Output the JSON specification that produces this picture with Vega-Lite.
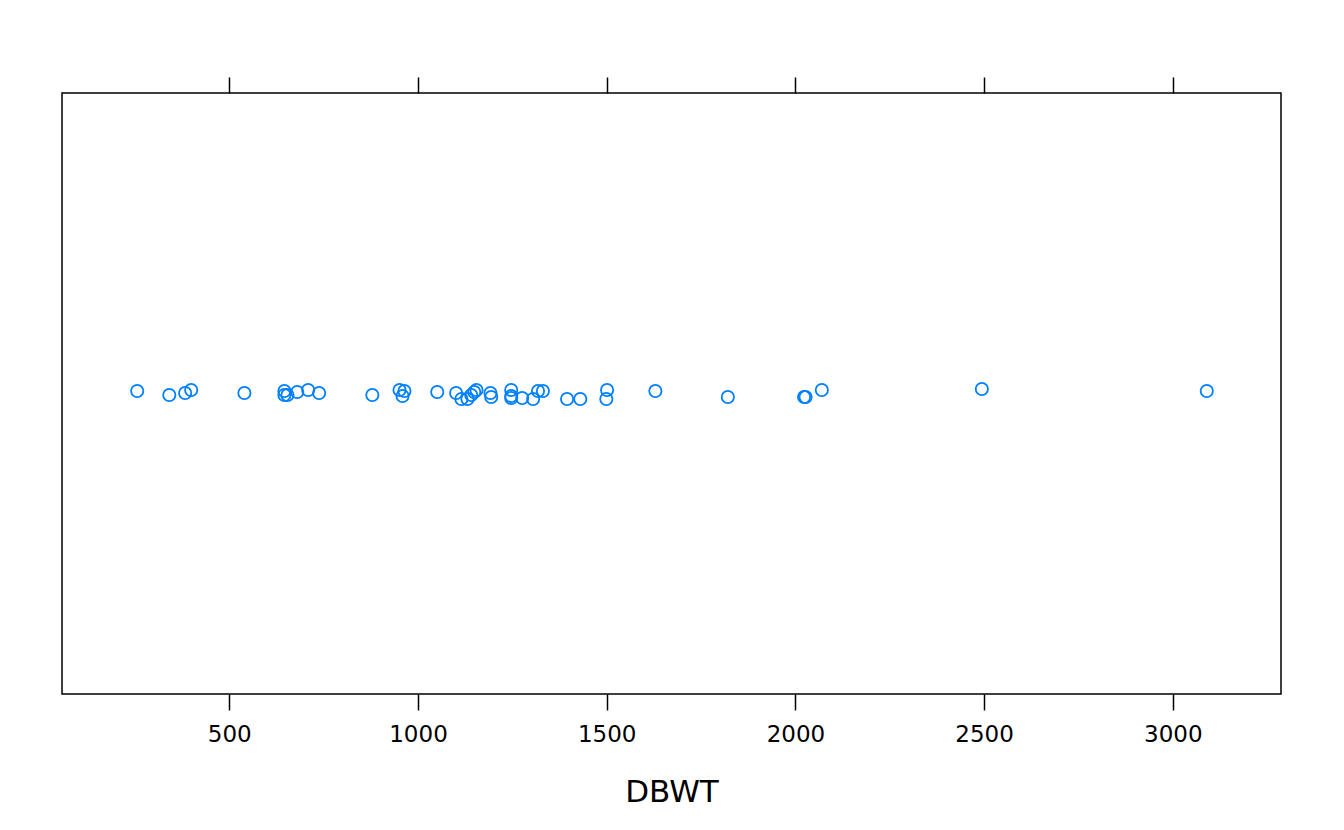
{
  "$schema": "https://vega.github.io/schema/vega-lite/v6.json",
  "autosize": "none",
  "width": 1219,
  "height": 601,
  "padding": {"left": 62, "top": 93, "right": 63, "bottom": 136},
  "background": "white",
  "config": {
    "view": {"stroke": "black", "strokeWidth": 1.5},
    "font": "DejaVu Sans"
  },
  "data": {
    "values": [
      {"DBWT": 256, "jit": 2.5},
      {"DBWT": 341, "jit": -1.5},
      {"DBWT": 383, "jit": 0.5},
      {"DBWT": 399, "jit": 3.5},
      {"DBWT": 540, "jit": 0.5},
      {"DBWT": 646, "jit": 2.5},
      {"DBWT": 646, "jit": -1.5},
      {"DBWT": 654, "jit": -1.5},
      {"DBWT": 680, "jit": 1.5},
      {"DBWT": 709, "jit": 3.5},
      {"DBWT": 738, "jit": 0.5},
      {"DBWT": 879, "jit": -1.5},
      {"DBWT": 951, "jit": 3.5},
      {"DBWT": 964, "jit": 2.5},
      {"DBWT": 959, "jit": -2.5},
      {"DBWT": 1051, "jit": 1.5},
      {"DBWT": 1101, "jit": 0.5},
      {"DBWT": 1115, "jit": -5.5},
      {"DBWT": 1131, "jit": -5.5},
      {"DBWT": 1141, "jit": -1.5},
      {"DBWT": 1149, "jit": 1.5},
      {"DBWT": 1155, "jit": 3.5},
      {"DBWT": 1192, "jit": 0.5},
      {"DBWT": 1194, "jit": -3.5},
      {"DBWT": 1247, "jit": 3.5},
      {"DBWT": 1247, "jit": -2.5},
      {"DBWT": 1247, "jit": -4.5},
      {"DBWT": 1276, "jit": -4.5},
      {"DBWT": 1305, "jit": -5.5},
      {"DBWT": 1318, "jit": 2.5},
      {"DBWT": 1331, "jit": 2.5},
      {"DBWT": 1395, "jit": -5.5},
      {"DBWT": 1430, "jit": -5.5},
      {"DBWT": 1501, "jit": 3.5},
      {"DBWT": 1499, "jit": -5.5},
      {"DBWT": 1629, "jit": 2.5},
      {"DBWT": 1821, "jit": -3.5},
      {"DBWT": 2023, "jit": -3.5},
      {"DBWT": 2027, "jit": -3.5},
      {"DBWT": 2070, "jit": 3.5},
      {"DBWT": 2494, "jit": 4.5},
      {"DBWT": 3090, "jit": 2.5}
    ]
  },
  "encoding": {
    "y": {
      "field": "jit",
      "type": "quantitative",
      "scale": {"domain": [-300.5, 300.5], "nice": false, "zero": false},
      "axis": null
    }
  },
  "layer": [
    {
      "mark": {"type": "point", "shape": "circle", "filled": false, "color": "#0080ff", "size": 150, "strokeWidth": 1.8, "opacity": 1},
      "encoding": {
        "x": {
          "field": "DBWT",
          "type": "quantitative",
          "scale": {"domain": [56.7, 3286.7], "nice": false, "zero": false},
          "axis": {
            "orient": "bottom",
            "values": [500, 1000, 1500, 2000, 2500, 3000],
            "format": "d",
            "grid": false,
            "domain": false,
            "tickColor": "black",
            "tickSize": 16,
            "tickWidth": 1.5,
            "labelFont": "DejaVu Sans",
            "labelFontSize": 23,
            "labelColor": "black",
            "labelPadding": 13,
            "title": "DBWT",
            "titleFont": "DejaVu Sans",
            "titleFontSize": 31,
            "titleFontWeight": "normal",
            "titleColor": "black",
            "titlePadding": 31
          }
        }
      }
    },
    {
      "mark": {"type": "point", "opacity": 0},
      "encoding": {
        "x": {
          "field": "DBWT",
          "type": "quantitative",
          "axis": {
            "orient": "top",
            "values": [500, 1000, 1500, 2000, 2500, 3000],
            "grid": false,
            "domain": false,
            "labels": false,
            "title": null,
            "tickColor": "black",
            "tickSize": 16,
            "tickWidth": 1.5
          }
        }
      }
    }
  ],
  "resolve": {"axis": {"x": "independent"}}
}
